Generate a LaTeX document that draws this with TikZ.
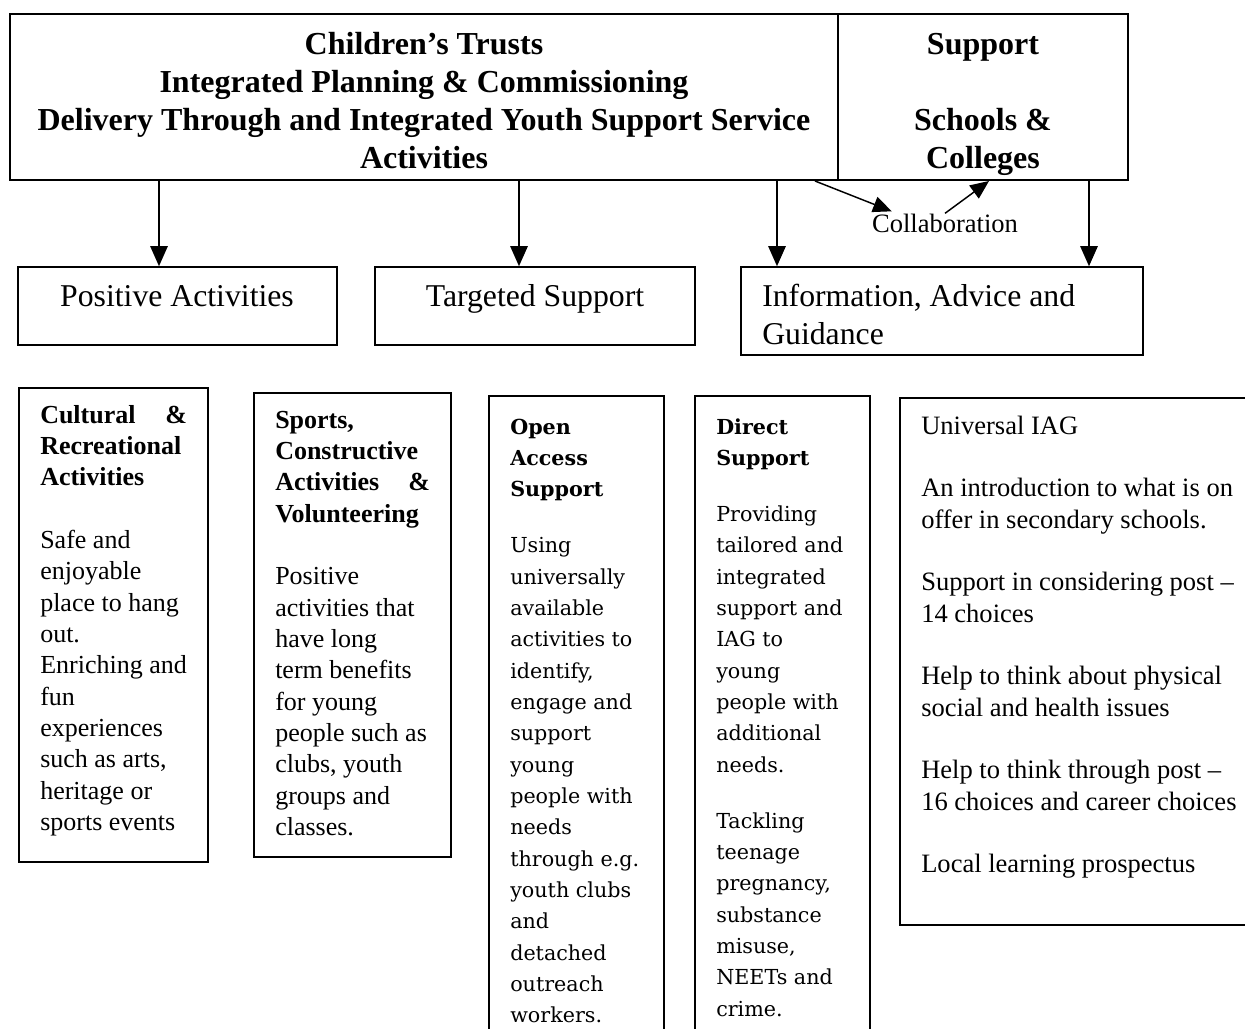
\documentclass[tikz,border=0pt]{standalone}
\usepackage{fontspec}
\setmainfont{Liberation Serif}
\newfontfamily\wideserif{DejaVu Serif}
\usetikzlibrary{arrows.meta,fit,calc}
\begin{document}
\begin{tikzpicture}[x=0.75pt,y=-0.75pt,
  box/.style={draw, line width=1.2pt, inner sep=0pt},
  txt/.style={anchor=base west, inner sep=0pt},
  ctxt/.style={anchor=base, inner sep=0pt},
  arr/.style={line width=1.2pt, -{Triangle[length=15pt,width=13pt]}},
  carr/.style={line width=1.1pt, -{Triangle[length=14pt,width=12pt]}}]
\clip (0,0) rectangle (1245,1028);
\useasboundingbox (0,0) rectangle (1245,1028);

% top boxes
\node[box, line width=1.5pt, fit={(10,14) (838,180)}] (trust) {};
\node[box, line width=1.5pt, fit={(838,14) (1128,180)}] (school) {};
\node[ctxt] (trusttxt) at (424,54) {\parbox[t]{800pt}{\centering\bfseries\fontsize{24pt}{28.5pt}\selectfont
  Children’s Trusts\\
  Integrated Planning \& Commissioning\\
  Delivery Through and Integrated Youth Support Service\\
  Activities}};
\node[ctxt] (schooltxt) at (983,54) {\parbox[t]{210pt}{\centering\bfseries\fontsize{24pt}{28.5pt}\selectfont
  Support\\[28.5pt]
  Schools \&\\
  Colleges}};

% second row
\node[box, fit={(18,267) (337,345)}] (pos) {};
\node[box, fit={(375,267) (695,345)}] (tgt) {};
\node[box, fit={(741,267) (1143,355)}] (iag) {};
\node[ctxt, font=\fontsize{23.8pt}{28.5pt}\selectfont] (postxt) at (177,306) {Positive Activities};
\node[ctxt, font=\fontsize{23.8pt}{28.5pt}\selectfont] (tgttxt) at (535,306) {Targeted Support};
\node[txt] (iagtxt) at (762,306) {\parbox[t]{300pt}{\raggedright\fontsize{23.8pt}{28.5pt}\selectfont
  Information, Advice and\\Guidance}};

% arrows
\path (trust.south west) ++(150,0) coordinate (a1);
\path (trust.south west) ++(510,0) coordinate (a2);
\path (trust.south west) ++(768,0) coordinate (a3);
\path (school.south west) ++(252,0) coordinate (a4);
\draw[arr] (a1) -- (a1 |- pos.north);
\draw[arr] (a2) -- (a2 |- tgt.north);
\draw[arr] (a3) -- (a3 |- iag.north);
\draw[arr] (a4) -- (a4 |- iag.north);

% collaboration
\node[ctxt, font=\fontsize{19.9pt}{23.5pt}\selectfont] (collab) at (945,232) {Collaboration};
\path (trust.south west) ++(806,0) coordinate (c1);
\path (school.south west) ++(152,0) coordinate (c2);
\draw[carr] (c1) -- ($(collab.north west)+(20,-2)$);
\draw[carr] (collab.north) -- (c2);

% bottom boxes
\node[box, fit={(19,388) (208,862)}] (b1) {};
\node[box, fit={(254,393) (451,857)}] (b2) {};
\node[box, fit={(489,396) (664,1045)}] (b3) {};
\node[box, fit={(695,396) (870,1045)}] (b4) {};
\node[box, fit={(900,398) (1260,925)}] (b5) {};

\node[txt] (b1txt) at (40,423) {\parbox[t]{110pt}{\raggedright\fontsize{19.5pt}{23.5pt}\selectfont
  \textbf{Cultural\hfill\&}\\
  \textbf{Recreational}\\
  \textbf{Activities}\\[23.5pt]
  Safe and\\ enjoyable\\ place to hang\\ out.\\ Enriching and\\ fun\\ experiences\\ such as arts,\\ heritage or\\ sports events}};

\node[txt] (b2txt) at (275,428) {\parbox[t]{116pt}{\raggedright\fontsize{19.5pt}{23.5pt}\selectfont
  \textbf{Sports,}\\
  \textbf{Constructive}\\
  \textbf{Activities\hfill\&}\\
  \textbf{Volunteering}\\[23.5pt]
  Positive\\ activities that\\ have long\\ term benefits\\ for young\\ people such as\\ clubs, youth\\ groups and\\ classes.}};

\node[txt] (b3txt) at (510,434) {\parbox[t]{150pt}{\raggedright\wideserif\fontsize{15.5pt}{23.5pt}\selectfont
  \textbf{Open}\\
  \textbf{Access}\\
  \textbf{Support}\\[18.5pt]
  Using\\ universally\\ available\\ activities to\\ identify,\\ engage and\\ support\\ young\\ people with\\ needs\\ through e.g.\\ youth clubs\\ and\\ detached\\ outreach\\ workers.}};

\node[txt] (b4txt) at (716,434) {\parbox[t]{150pt}{\raggedright\wideserif\fontsize{15.5pt}{23.5pt}\selectfont
  \textbf{Direct}\\
  \textbf{Support}\\[18.5pt]
  Providing\\ tailored and\\ integrated\\ support and\\ IAG to\\ young\\ people with\\ additional\\ needs.\\[18.5pt]
  Tackling\\ teenage\\ pregnancy,\\ substance\\ misuse,\\ NEETs and\\ crime.}};

\node[txt] (b5txt) at (921,434) {\parbox[t]{300pt}{\raggedright\fontsize{19.9pt}{23.5pt}\selectfont
  Universal IAG\\[23.5pt]
  An introduction to what is on\\ offer in secondary schools.\\[23.5pt]
  Support in considering post –\\ 14 choices\\[23.5pt]
  Help to think about physical\\ social and health issues\\[23.5pt]
  Help to think through post –\\ 16 choices and career choices\\[23.5pt]
  Local learning prospectus}};
\end{tikzpicture}
\end{document}
